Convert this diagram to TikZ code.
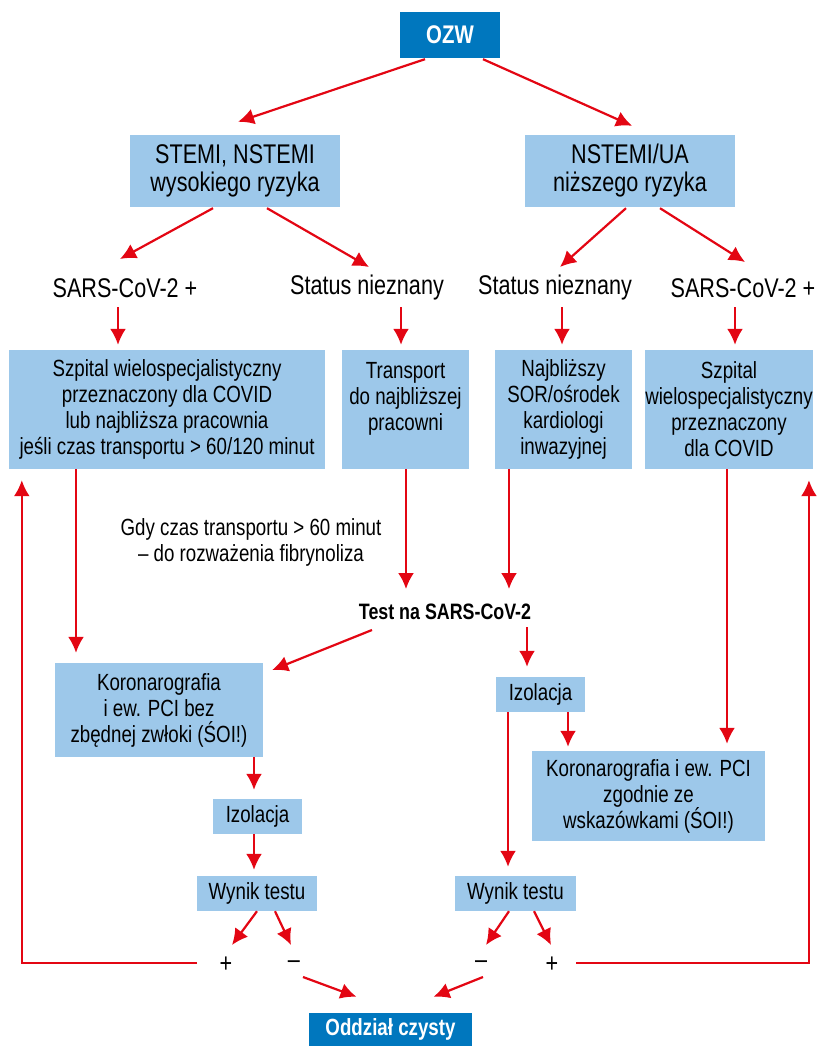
\documentclass[tikz,border=0pt]{standalone}
\usepackage{fontspec}
\setmainfont{Liberation Sans}[FakeStretch=0.8]
\usepackage{tikz}
\usetikzlibrary{arrows.meta,calc,positioning}
\definecolor{ozwblue}{RGB}{0,119,190}
\definecolor{ozwlight}{RGB}{157,200,234}
\definecolor{ozwred}{RGB}{227,6,19}

\begin{document}
\begin{tikzpicture}[x=1pt,y=-1pt,
  arr/.style={draw=ozwred, line width=2.2pt, -{Latex[length=16pt,width=16pt]}},
  lbox/.style={fill=ozwlight, inner sep=0pt, align=center, font=\fontsize{23.4}{26}\selectfont},
  dbox/.style={fill=ozwblue, text=white, inner sep=0pt, font=\bfseries\fontsize{23.4}{26}\selectfont},
  big/.style={inner sep=0pt, align=center, font=\fontsize{27}{28}\selectfont},
  plain/.style={inner sep=0pt, align=center, font=\fontsize{23.4}{26}\selectfont},
  sign/.style={inner sep=0pt, font=\fontsize{27}{28}\selectfont}]
  \useasboundingbox (0,0) rectangle (817,1046);

  % gora
  \node[dbox, minimum width=100pt, minimum height=46pt, font=\bfseries\fontsize{25.5}{28}\selectfont] (ozw) at (450,35) {OZW};
  \node[lbox, big, fill=ozwlight, minimum width=210pt, minimum height=72pt] (stemi) at (235,171) {STEMI, NSTEMI\\wysokiego ryzyka};
  \node[lbox, big, fill=ozwlight, minimum width=210pt, minimum height=72pt] (nstemi) at (630,171) {NSTEMI/UA\\niższego ryzyka};
  \node[big] (sarsL) at (125,288) {SARS-CoV-2 +};
  \node[big] (statusL) at (367,288) {Status nieznany};
  \node[big] (statusR) at (555,288) {Status nieznany};
  \node[big] (sarsR) at (743,288) {SARS-CoV-2 +};

  % drugi rzad
  \node[lbox, minimum width=316pt, minimum height=119pt] (szpA) at (167,409.5) {Szpital wielospecjalistyczny\\przeznaczony dla COVID\\lub najbliższa pracownia\\jeśli czas transportu > 60/120 minut};
  \node[lbox, minimum width=127pt, minimum height=119pt] (transport) at (405.5,409.5) {Transport\\do najbliższej\\pracowni\\\mbox{}};
  \node[lbox, minimum width=137pt, minimum height=119pt] (najbl) at (563.5,409.5) {Najbliższy\\SOR/ośrodek\\kardiologi\\inwazyjnej};
  \node[lbox, minimum width=162pt, minimum height=119pt] (szpD) at (729,409.5) {Szpital\\wielospecjalistyczny\\przeznaczony\\dla COVID};

  \node[plain] (gdy) at (251,542) {Gdy czas transportu > 60 minut\\– do rozważenia fibrynoliza};
  \node[plain, font=\bfseries\fontsize{22.3}{25}\selectfont] (test) at (445,612) {Test na SARS-CoV-2};

  % dol
  \node[lbox, minimum width=208pt, minimum height=94pt] (korL) at (159,710) {Koronarografia\\i ew. PCI bez\\zbędnej zwłoki (ŚOI!)};
  \node[lbox, minimum width=89pt, minimum height=35pt] (izoR) at (540.5,694.5) {Izolacja};
  \node[lbox, minimum width=233pt, minimum height=90pt] (korR) at (648.5,796) {Koronarografia i ew. PCI\\zgodnie ze\\wskazówkami (ŚOI!)};
  \node[lbox, minimum width=89pt, minimum height=35pt] (izoL) at (257.5,816.5) {Izolacja};
  \node[lbox, minimum width=120pt, minimum height=35pt] (wynL) at (257,893.5) {Wynik testu};
  \node[lbox, minimum width=121pt, minimum height=35pt] (wynR) at (515.5,893.5) {Wynik testu};
  \node[sign] (plusL) at (226,965) {+};
  \node[sign] (minusL) at (294,965) {–};
  \node[sign] (minusR) at (481,965) {–};
  \node[sign] (plusR) at (552,965) {+};
  \node[dbox, minimum width=163pt, minimum height=33pt] (oddz) at (390.5,1029.5) {Oddział czysty};

  % strzalki
  \draw[arr] ($(ozw.south)+(-25,1)$) -- ($(stemi.north)+(3,-13)$);
  \draw[arr] ($(ozw.south)+(33,1)$) -- ($(nstemi.north)+(2,-9)$);
  \draw[arr] ($(stemi.south)+(-22,1)$) -- ($(sarsL.center)+(-5,-29)$);
  \draw[arr] ($(stemi.south)+(32,1)$) -- ($(statusL.center)+(2,-21)$);
  \draw[arr] ($(nstemi.south)+(-4,1)$) -- ($(statusR.center)+(5,-21)$);
  \draw[arr] ($(nstemi.south)+(30,1)$) -- ($(sarsR.center)+(2,-26)$);
  \draw[arr] ($(sarsL.center)+(-7,19)$) -- ($(szpA.north)+(-49,-5)$);
  \draw[arr] ($(statusL.center)+(34,19)$) -- ($(transport.north)+(-4.5,-5)$);
  \draw[arr] ($(statusR.center)+(7,19)$) -- ($(najbl.north)+(-1.5,-5)$);
  \draw[arr] ($(sarsR.center)+(-8,19)$) -- ($(szpD.north)+(6,-5)$);

  \draw[arr] ($(szpA.south)+(-91,0)$) -- ($(korL.north)+(-83,-10)$);
  \draw[arr] ($(transport.south)+(0.5,0)$) -- ($(test.center)+(-39,-23)$);
  \draw[arr] ($(najbl.south)+(-54.5,0)$) -- ($(test.center)+(64,-23)$);
  \draw[arr] ($(szpD.south)+(-2,0)$) -- ($(korR.north)+(78.5,-7)$);

  \draw[arr] ($(test.center)+(-73,18)$) -- ($(korL.east)+(9,-40)$);
  \draw[arr] ($(test.center)+(82,15)$) -- ($(izoR.north)+(-13.5,-10)$);
  \draw[arr] ($(izoR.south)+(27.5,0)$) -- ($(korR.north)+(-80.5,-4)$);
  \draw[arr] ($(izoR.south)+(-32.5,0)$) -- ($(wynR.north)+(-7.5,-9)$);
  \draw[arr] ($(korL.south)+(95,0)$) -- ($(izoL.north)+(-3.5,-9)$);
  \draw[arr] ($(izoL.south)+(-3.5,0)$) -- ($(wynL.north)+(-3,-6)$);

  \draw[arr] (wynL.south) -- ($(plusL.center)+(6,-20)$);
  \draw[arr] ($(wynL.south)+(18,0)$) -- ($(minusL.center)+(-3,-20)$);
  \draw[arr] ($(wynR.south)+(-6.5,0)$) -- ($(minusR.center)+(5,-20)$);
  \draw[arr] ($(wynR.south)+(18.5,0)$) -- ($(plusR.center)+(-1,-20)$);

  % powrot przy wyniku dodatnim
  \draw[arr] ($(plusL.center)+(-29,-2)$) -| ($(szpA.south west)+(13,11)$);
  \draw[arr] ($(plusR.center)+(24,-2)$) -| ($(szpD.south east)+(-4,11)$);

  \draw[arr] ($(minusL.center)+(9,12)$) -- ($(oddz.north)+(-34,-16)$);
  \draw[arr] ($(minusR.center)+(2,12)$) -- ($(oddz.north)+(43,-16)$);
\end{tikzpicture}
\end{document}
